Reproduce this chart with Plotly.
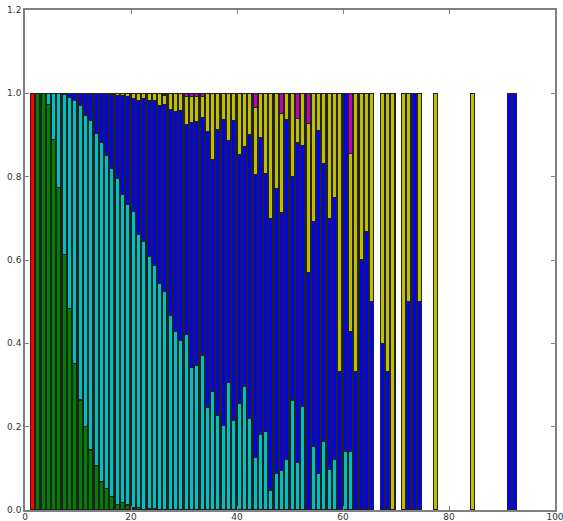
import plotly.graph_objects as go

# Bar positions (left edges) and the fraction of each class per bar
positions = list(range(1, 66)) + [67, 68, 69, 71, 72, 73, 74, 77, 84, 91, 92]

red = [1.0] + [None] * 75

green = [None, 1.0, 1.0, 0.974, 0.89, 0.774, 0.614, 0.483, 0.352, 0.264,
         0.200, 0.144, 0.106, 0.068, 0.052, 0.032, 0.014, 0.018, 0.012, 0.005,
         0.006, 0.002, 0.003, 0.003] + [None] * 52

cyan = [None, None, None, 0.026, 0.11, 0.226, 0.383, 0.507, 0.630, 0.708,
        0.748, 0.790, 0.798, 0.814, 0.800, 0.788, 0.782, 0.740, 0.722, 0.711,
        0.656, 0.642, 0.605, 0.583, 0.544, 0.524, 0.466, 0.428, 0.406, 0.422,
        0.342, 0.348, 0.372, 0.246, 0.284, 0.228, 0.202, 0.306, 0.216, 0.256,
        0.296, 0.219, 0.126, 0.182, 0.188, 0.048, 0.088, 0.094, 0.122, 0.264,
        0.114, 0.248, None, 0.152, 0.088, 0.164, 0.098, 0.122, None, 0.14,
        0.14, None, None, None, None] + [None] * 11

blue = [None, None, None, None, None, None, 0.003, 0.01, 0.018, 0.028,
        0.052, 0.066, 0.096, 0.118, 0.148, 0.176, 0.198, 0.236, 0.258, 0.272,
        0.320, 0.344, 0.374, 0.396, 0.426, 0.450, 0.496, 0.528, 0.552, 0.504,
        0.588, 0.584, 0.570, 0.662, 0.558, 0.684, 0.736, 0.580, 0.718, 0.598,
        0.576, 0.681, 0.680, 0.712, 0.620, 0.652, 0.684, 0.619, 0.814, 0.536,
        0.767, 0.626, 0.570, 0.540, 0.822, 0.668, 0.602, 0.628, 0.333, 0.86,
        0.288, 0.333, 0.6, 0.667, 0.5,
        0.4, 0.333, None, None, 0.5, 1.0, 0.5, None, None, 1.0, 1.0]

yellow = [None] * 15 + [0.004, 0.006, 0.006, 0.008, 0.012,
          0.018, 0.012, 0.018, 0.018, 0.030, 0.022, 0.038, 0.044, 0.042, 0.066,
          0.062, 0.060, 0.050, 0.092, 0.158, 0.088, 0.062, 0.114, 0.066, 0.146,
          0.128, 0.100, 0.160, 0.106, 0.192, 0.300, 0.228, 0.239, 0.064, 0.200,
          0.059, 0.126, 0.358, 0.308, 0.090, 0.168, 0.300, 0.250, 0.667, None,
          0.428, 0.667, 0.4, 0.333, 0.5,
          0.6, 0.667, 1.0, 1.0, 0.5, None, 0.5, 1.0, 1.0, None, None]

magenta = [None] * 25 + [0.004, None, None, None, 0.008,
           0.008, 0.008, 0.008, None, None, None, None, None, None, None,
           None, None, 0.034, None, None, None, None, 0.048, None, None,
           0.060, None, 0.072, None, None, None, None, None, None, None,
           0.144, None, None, None, None] + [None] * 11

series = [
    (red, "#ff0000"),
    (green, "#008000"),
    (cyan, "#00bfbf"),
    (blue, "#0000ff"),
    (yellow, "#bfbf00"),
    (magenta, "#bf00bf"),
]

fig = go.Figure()
for values, color in series:
    fig.add_trace(go.Bar(
        x=positions,
        y=values,
        width=0.8,
        offset=0,
        marker=dict(color=color, line=dict(color="#222222", width=1.2)),
        showlegend=False,
    ))

axis_style = dict(
    showgrid=False,
    zeroline=False,
    showline=True,
    linecolor="#808080",
    linewidth=1.5,
    mirror="allticks",
    ticks="inside",
    ticklen=4,
    tickcolor="#808080",
    automargin=False,
    ticklabeloverflow="allow",
    tickfont=dict(family="DejaVu Sans", size=9, color="#333333"),
)

fig.update_layout(
    barmode="stack",
    width=563,
    height=521,
    margin=dict(l=25, r=8, t=10, b=11),
    paper_bgcolor="white",
    plot_bgcolor="white",
    xaxis=dict(range=[0, 100], tickvals=[0, 20, 40, 60, 80, 100],
               ticklabelstandoff=-3, **axis_style),
    yaxis=dict(range=[0, 1.2], tickvals=[0, 0.2, 0.4, 0.6, 0.8, 1.0, 1.2],
               tickformat=".1f", **axis_style),
)

fig.write_html("out.html")
